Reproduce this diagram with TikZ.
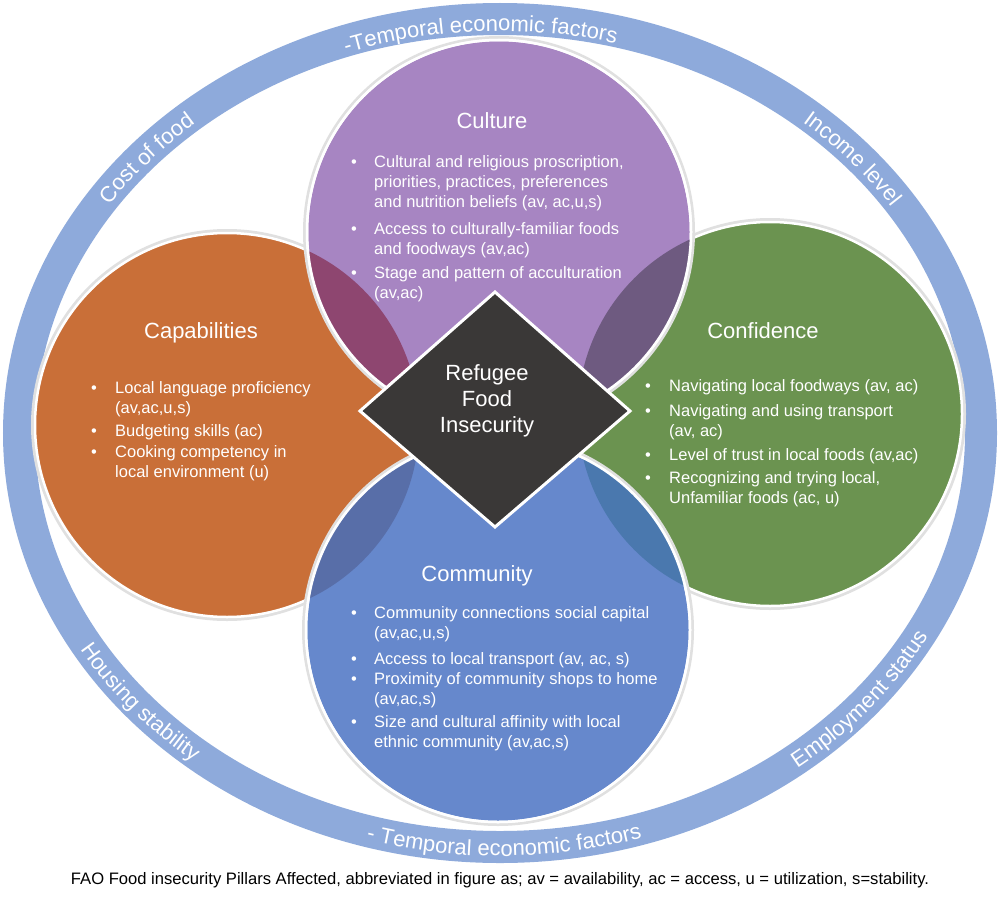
\documentclass[tikz,border=0pt]{standalone}
\usepackage{fontspec}
\setmainfont{Liberation Sans}
\usetikzlibrary{decorations.text}
\definecolor{ringc}{RGB}{142,170,219}
\definecolor{capc}{RGB}{201,111,56}
\definecolor{culc}{RGB}{167,133,194}
\definecolor{conc}{RGB}{107,147,80}
\definecolor{comc}{RGB}{102,136,204}
\definecolor{diac}{RGB}{58,56,55}
\definecolor{ovA}{RGB}{142,70,112}
\definecolor{ovB}{RGB}{110,90,128}
\definecolor{ovC}{RGB}{88,110,168}
\definecolor{ovD}{RGB}{74,120,174}
\begin{document}
\begin{tikzpicture}[x=1pt,y=-1pt,
  disc/.style={draw=white, line width=2.5pt, preaction={draw=black!12, line width=8pt}},
  ttl/.style={text=white, font=\fontsize{22}{26}\selectfont, inner sep=0pt, anchor=base},
  itm/.style={text=white, font=\fontsize{16.5}{20}\selectfont, inner sep=0pt, anchor=base west},
  bul/.style={text=white, font=\fontsize{16.5}{20}\selectfont, inner sep=0pt, anchor=base},
  ringtxt/.style={decorate, decoration={text along path, text align=center, text color=white, text={|\fontsize{22}{26}\selectfont|#1}}}
]
\useasboundingbox (0,0) rectangle (1000,899);
\fill[white] (0,0) rectangle (1000,899);
% outer ring
\coordinate (ctr) at (500,433);
\draw[ringc, line width=32pt] (ctr) ellipse [x radius=481pt, y radius=414pt];
% circle centres
\coordinate (ccul) at (499,232);
\coordinate (ccap) at (227,425);
\coordinate (ccon) at (770,414);
\coordinate (ccom) at (498,630);
% discs
\path[disc, fill=capc] (ccap) circle [radius=192pt];
\path[disc, fill=conc] (ccon) circle [radius=192pt];
\path[disc, fill=culc] (ccul) circle [radius=192pt];
\path[disc, fill=comc] (ccom) circle [radius=192pt];
% overlaps
\begin{scope}
  \clip (ccul) circle [radius=192pt];
  \fill[ovA] (ccap) circle [radius=192pt];
  \fill[ovB] (ccon) circle [radius=192pt];
\end{scope}
\begin{scope}
  \clip (ccom) circle [radius=192pt];
  \fill[ovC] (ccap) circle [radius=192pt];
  \fill[ovD] (ccon) circle [radius=192pt];
\end{scope}
\draw[white, line width=2.5pt] (ccul) circle [radius=192pt];
\draw[white, line width=2.5pt] (ccom) circle [radius=192pt];
% diamond
\coordinate (dt) at (495,292);
\coordinate (dr) at (630,411);
\coordinate (db) at (495,527);
\coordinate (dl) at (360,411);
\filldraw[fill=diac, draw=white, line width=3pt, line join=miter] (dt) -- (dr) -- (db) -- (dl) -- cycle;
\node[text=white, font=\fontsize{22}{26}\selectfont, align=center, inner sep=0pt] (rfi) at (487,401) {Refugee\\Food\\Insecurity};
% ring labels
\path[ringtxt={-Temporal economic factors}] ([shift={(125:470pt and 402pt)}]ctr) arc [start angle=125, end angle=60, x radius=470pt, y radius=402pt];
\path[ringtxt={Cost of food}] ([shift={(160:472pt and 405pt)}]ctr) arc [start angle=160, end angle=117, x radius=472pt, y radius=405pt];
\path[ringtxt={Income level}] ([shift={(63:472pt and 405pt)}]ctr) arc [start angle=63, end angle=20, x radius=472pt, y radius=405pt];
\path[ringtxt={Housing stability}] ([shift={(198:489pt and 422pt)}]ctr) arc [start angle=198, end angle=243, x radius=489pt, y radius=422pt];
\path[ringtxt={Employment status}] ([shift={(293:489pt and 422pt)}]ctr) arc [start angle=293, end angle=347, x radius=489pt, y radius=422pt];
\path[ringtxt={- Temporal economic factors}] ([shift={(237:490pt and 423pt)}]ctr) arc [start angle=237, end angle=304, x radius=490pt, y radius=423pt];
% titles
\node[ttl] (tcul) at (492,128) {Culture};
\node[ttl] (tcap) at (201,338) {Capabilities};
\node[ttl] (tcon) at (763,338) {Confidence};
\node[ttl] (tcom) at (477,581) {Community};
% culture items
\foreach \n/\y/\t in {1/167/{Cultural and religious proscription,}, 2/187/{priorities, practices, preferences}, 3/207/{and nutrition beliefs (av, ac,u,s)}, 4/234/{Access to culturally-familiar foods}, 5/254/{and foodways (av,ac)}, 6/278/{Stage and pattern of acculturation}, 7/298/{(av,ac)}}
  \node[itm] (cu\n) at (374,\y) {\t};
\foreach \n/\y in {1/167, 2/234, 3/278}
  \node[bul] (cub\n) at (354,\y) {\textbullet};
% capabilities items
\foreach \n/\y/\t in {1/393/{Local language proficiency}, 2/413/{(av,ac,u,s)}, 3/436/{Budgeting skills (ac)}, 4/457/{Cooking competency in}, 5/477/{local environment (u)}}
  \node[itm] (ca\n) at (115,\y) {\t};
\foreach \n/\y in {1/393, 2/436, 3/457}
  \node[bul] (cab\n) at (94,\y) {\textbullet};
% confidence items
\foreach \n/\y/\t in {1/391/{Navigating local foodways (av, ac)}, 2/416/{Navigating and using transport}, 3/436/{(av, ac)}, 4/460/{Level of trust in local foods (av,ac)}, 5/483/{Recognizing and trying local,}, 6/503/{Unfamiliar foods (ac, u)}}
  \node[itm] (co\n) at (669,\y) {\t};
\foreach \n/\y in {1/391, 2/416, 3/460, 4/483}
  \node[bul] (cob\n) at (648,\y) {\textbullet};
% community items
\foreach \n/\y/\t in {1/618/{Community connections social capital}, 2/638/{(av,ac,u,s)}, 3/664/{Access to local transport (av, ac, s)}, 4/684/{Proximity of community shops to home}, 5/704/{(av,ac,s)}, 6/727/{Size and cultural affinity with local}, 7/747/{ethnic community (av,ac,s)}}
  \node[itm] (cm\n) at (374,\y) {\t};
\foreach \n/\y in {1/618, 2/664, 3/684, 4/727}
  \node[bul] (cmb\n) at (354,\y) {\textbullet};
% caption
\node[font=\fontsize{16.6}{19}\selectfont, inner sep=0pt, anchor=base] (caption) at (500,884) {FAO Food insecurity Pillars Affected, abbreviated in figure as; av = availability, ac = access, u = utilization, s=stability.};
\end{tikzpicture}
\end{document}
